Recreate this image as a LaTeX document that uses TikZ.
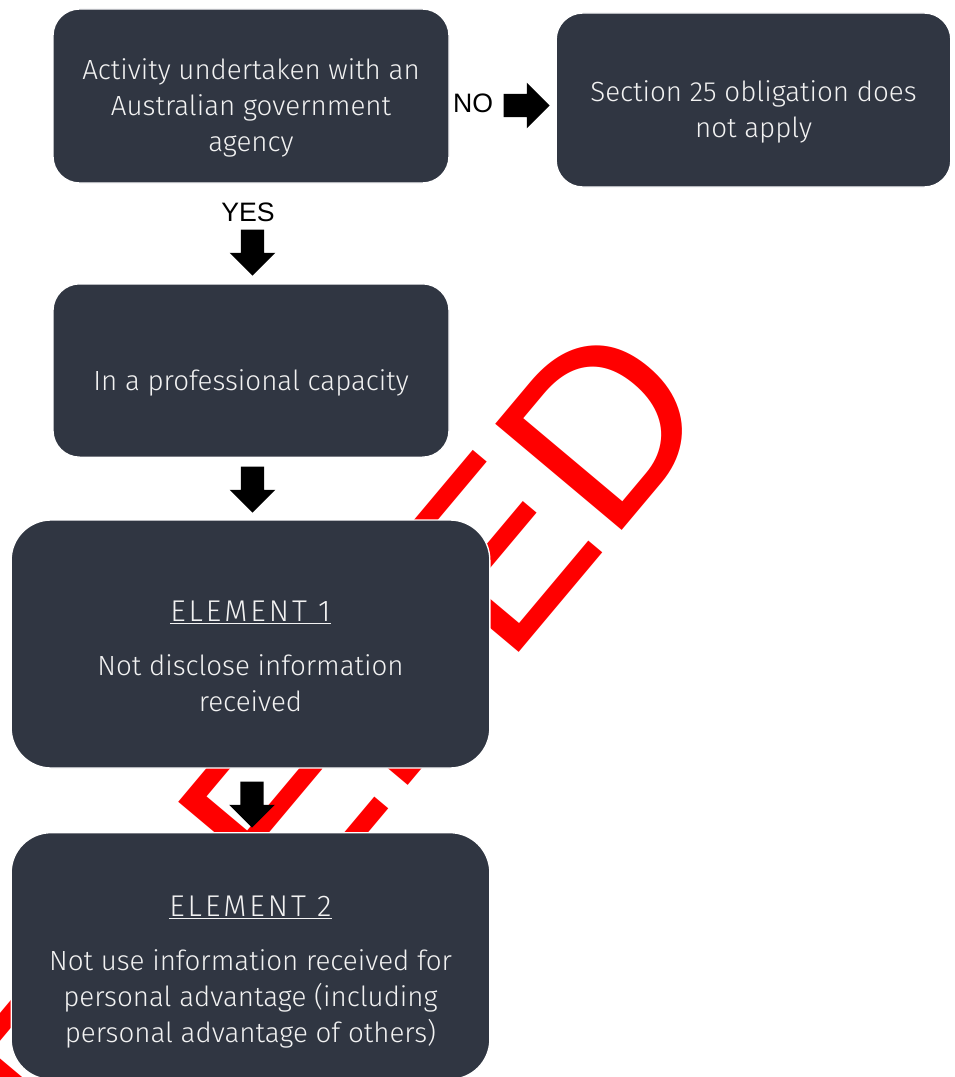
\documentclass[tikz,border=0pt]{standalone}
\usepackage{fontspec}
\setmainfont{Fira Sans}[UprightFont=* Light]
\newfontfamily\labelfont{Liberation Sans}
\usetikzlibrary{shapes.arrows}
\definecolor{slate}{RGB}{48,54,66}
\definecolor{boxtext}{RGB}{242,242,242}
\newcommand{\elemhead}[1]{{\fontsize{22.5}{27}\selectfont\addfontfeature{LetterSpace=10}\underline{#1}}}
\begin{document}
\begin{tikzpicture}[x=0.75pt,y=0.75pt,
  flowbox/.style={rectangle, fill=slate, draw=white, line width=1pt},
  flowtext/.style={text=boxtext, align=center, font=\fontsize{20.8}{27}\selectfont},
  blkarrow/.style={single arrow, fill=black, inner xsep=0pt, inner ysep=8.6pt,
    single arrow head extend=8.3pt, minimum height=34.5pt, anchor=tip},
  answer/.style={font=\labelfont\fontsize{20}{24}\selectfont}]
  \clip (0,0) rectangle (955,-1077);
  % watermark behind the chart
  \node[red, font=\labelfont\fontsize{180}{180}\selectfont, rotate=50,
    anchor=base east, inner sep=0pt] (stamp) at (721,-412) {SUPERSEDED};

  \node[flowbox, rounded corners=20pt, minimum width=297pt, minimum height=130.5pt] (act) at (251,-96) {};
  \node[flowtext] (act-t) at ([yshift=-9pt]act.center) {Activity undertaken with an\\Australian government\\agency};
  \node[flowbox, rounded corners=20pt, minimum width=296pt, minimum height=130.5pt] (noapply) at (753.5,-100) {};
  \node[flowtext] (noapply-t) at ([yshift=-9pt]noapply.center) {Section 25 obligation does\\not apply};
  \node[flowbox, rounded corners=20pt, minimum width=297pt, minimum height=130pt] (prof) at (251,-370.5) {};
  \node[flowtext] (prof-t) at ([yshift=-9pt]prof.center) {In a professional capacity};
  \node[flowbox, rounded corners=30pt, minimum width=359pt, minimum height=186pt] (elem1) at (250.5,-644) {};
  \node[flowtext] (elem1-t) at ([yshift=-9pt]elem1.center) {\elemhead{ELEMENT 1}\\[13.5pt]Not disclose information\\received};
  \node[flowbox, rounded corners=30pt, minimum width=359pt, minimum height=185pt] (elem2) at (250.5,-956) {};
  \node[flowtext] (elem2-t) at ([yshift=-12pt]elem2.center) {\elemhead{ELEMENT 2}\\[13.5pt]Not use information received for\\personal advantage (including\\personal advantage of others)};

  % yes / no arrows
  \node[answer] (no) at (473,-103) {NO};
  \node[blkarrow] (no-arr) at (550,-105.5) {};
  \node[answer] (yes) at (248,-212) {YES};
  \node[blkarrow, rotate=-90] (yes-arr) at (252.5,-276) {};
  \node[blkarrow, rotate=-90] (prof-arr) at (252.5,-513) {};
  \node[blkarrow, rotate=-90] (elem-arr) at (252,-828) {};
\end{tikzpicture}
\end{document}
